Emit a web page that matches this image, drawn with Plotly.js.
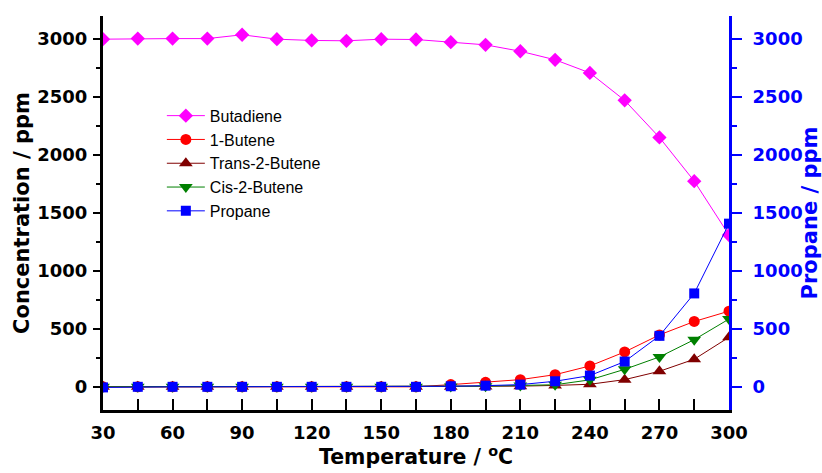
<!DOCTYPE html>
<html>
<head>
<meta charset="utf-8">
<script src="https://cdn.plot.ly/plotly-3.0.1.min.js"></script>
<style>html,body{margin:0;padding:0;background:#fff;}#chart{width:822px;height:473px;}</style>
</head>
<body>
<div id="chart"></div>
<script>
const temperature = [30,45,60,75,90,105,120,135,150,165,180,195,210,225,240,255,270,285,300];
const butadiene = [3000,3005,3005,3005,3038,3000,2989,2986,3000,2997,2974,2951,2896,2822,2709,2472,2152,1775,1310];
const butene1 = [0,0,0,0,0,0,0,0,0,0,19,39,62,105,180,301,448,564,653];
const trans2butene = [0,0,0,0,0,0,0,0,0,0,0,3,6,12,22,62,134,238,428];
const cis2butene = [0,0,0,0,0,0,0,0,0,0,3,6,12,18,60,151,258,407,585];
const propane = [-5,0,0,0,0,0,0,0,0,0,5,10,19,48,97,218,440,806,1408];
const xTitle = '\u00a0\u00a0\u00a0Temperature / <sup>o</sup>C';
const yTitle = 'Concentration / ppm';
const y2Title = 'Propane / ppm';

const boldFont = {family: 'DejaVu Sans', size: 18, weight: 'bold', color: 'black'};
function tr(name, y, color, symbol, size, axis) {
  return {
    x: temperature, y: y, name: name, type: 'scatter', mode: 'lines+markers',
    line: {color: color, width: 1},
    marker: {color: color, symbol: symbol, size: size},
    yaxis: axis || 'y', xaxis: 'x'
  };
}
const data = [
  tr('Butadiene', butadiene, '#FF00FF', 'diamond', 11),
  tr('1-Butene', butene1, '#FF0000', 'circle', 11),
  tr('Trans-2-Butene', trans2butene, '#800000', 'triangle-up', 12),
  tr('Cis-2-Butene', cis2butene, '#008000', 'triangle-down', 12),
  tr('Propane', propane, '#0000FF', 'square', 10, 'y2')
];
const layout = {
  width: 822, height: 473,
  margin: {l: 103, r: 93, t: 16, b: 63},
  paper_bgcolor: 'white', plot_bgcolor: 'white',
  showlegend: true,
  legend: {x: 0.094, y: 0.79, xanchor: 'left', yanchor: 'top', bgcolor: 'rgba(0,0,0,0)',
           itemwidth: 38,
           font: {family: 'Liberation Sans', size: 16, color: 'black'}, tracegroupgap: 0},
  xaxis: {
    range: [30, 300], tick0: 30, dtick: 30, ticks: 'inside', ticklen: 11, tickwidth: 2, tickcolor: 'black',
    minor: {dtick: 15, tick0: 30, ticks: 'inside', ticklen: 11, tickwidth: 2, tickcolor: 'black'},
    showline: true, linewidth: 3, linecolor: 'black', showgrid: false, zeroline: false,
    tickfont: boldFont, ticklabelstandoff: 4,
    title: {text: xTitle, font: {family: 'DejaVu Sans', size: 20.5, weight: 'bold', color: 'black'}, standoff: 4}
  },
  xaxis2: {
    overlaying: 'x', side: 'top', anchor: 'y', range: [30, 300], tick0: 30, dtick: 15,
    ticks: 'inside', ticklen: 3, tickwidth: 2, tickcolor: 'black', showticklabels: false,
    showline: true, linewidth: 3, linecolor: 'black', showgrid: false, zeroline: false
  },
  yaxis: {
    range: [-200, 3200], tick0: 0, dtick: 500, ticks: 'outside', ticklen: 7, tickwidth: 2, tickcolor: 'black',
    minor: {dtick: 250, tick0: 0, ticks: 'outside', ticklen: 4, tickwidth: 2, tickcolor: 'black'},
    showline: true, linewidth: 3, linecolor: 'black', showgrid: false, zeroline: false,
    tickfont: boldFont, ticklabelstandoff: 2,
    title: {text: yTitle, font: {family: 'DejaVu Sans', size: 21, weight: 'bold', color: 'black'}, standoff: 2}
  },
  yaxis2: {
    overlaying: 'y', side: 'right', anchor: 'x', range: [-200, 3200], tick0: 0, dtick: 500,
    ticks: 'outside', ticklen: 10, tickwidth: 2, tickcolor: '#0000FF',
    minor: {dtick: 250, tick0: 0, ticks: 'outside', ticklen: 5, tickwidth: 2, tickcolor: '#0000FF'},
    showline: true, linewidth: 3, linecolor: '#0000FF', showgrid: false, zeroline: false,
    tickfont: {family: 'DejaVu Sans', size: 18, weight: 'bold', color: '#0000FF'}, ticklabelstandoff: 7,
    title: {text: y2Title, font: {family: 'DejaVu Sans', size: 21, weight: 'bold', color: '#0000FF'}, standoff: 2}
  }
};
Plotly.newPlot('chart', data, layout, {displayModeBar: false, staticPlot: true});
</script>
</body>
</html>
